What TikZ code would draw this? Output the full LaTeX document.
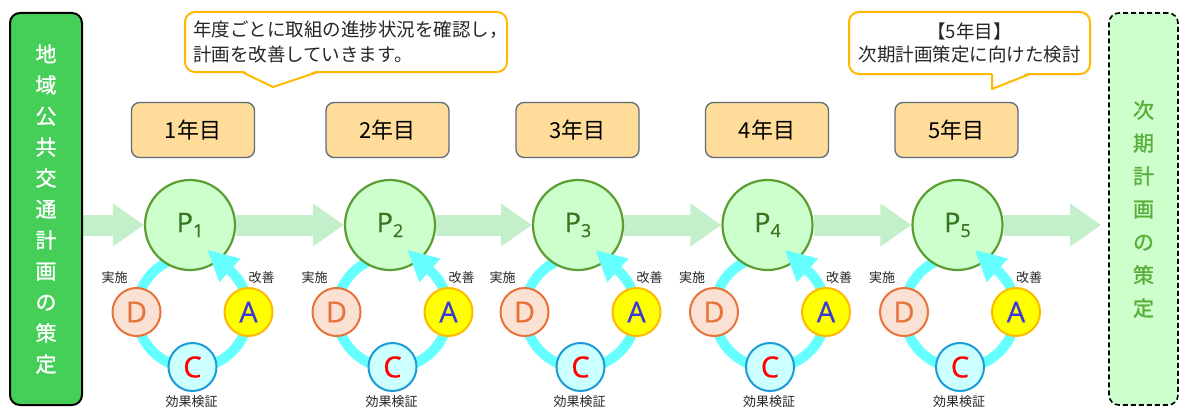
\documentclass[tikz,border=0pt]{standalone}
\usepackage{fontspec}
\setmainfont{Noto Sans CJK JP}
\newfontfamily\vfont[FakeBold=1.2]{Noto Sans CJK JP}
\newfontfamily\latf[FakeBold=0.6]{Open Sans}
\usetikzlibrary{arrows.meta,calc}
\definecolor{lgreen}{HTML}{45CF58}
\definecolor{rfill}{HTML}{CCFFCC}
\definecolor{rtext}{HTML}{5AAE3C}
\definecolor{bandc}{HTML}{C4EFCB}
\definecolor{pfill}{HTML}{CCFFCC}
\definecolor{pdraw}{HTML}{5A9E32}
\definecolor{ptext}{HTML}{357520}
\definecolor{yfill}{HTML}{FFDC9A}
\definecolor{ydraw}{HTML}{5F6B78}
\definecolor{cob}{HTML}{FFB900}
\definecolor{ringc}{HTML}{66FFFF}
\definecolor{dfill}{HTML}{FBE1D3}
\definecolor{ddraw}{HTML}{E8733A}
\definecolor{afill}{HTML}{FFFF00}
\definecolor{adraw}{HTML}{FFB900}
\definecolor{atext}{HTML}{3A3AD8}
\definecolor{cfill}{HTML}{CCFFFF}
\definecolor{cdraw}{HTML}{1B9CD8}
\definecolor{ctext}{HTML}{FF0000}
\pgfdeclarelayer{bg}
\pgfsetlayers{bg,main}
\begin{document}
\begin{tikzpicture}[x=1pt,y=1pt,
  leftbox/.style={draw=black,line width=2pt,fill=lgreen,rounded corners=10pt,minimum width=72pt,minimum height=392pt,inner sep=0pt,text=white,align=center,font=\vfont\fontsize{21}{31}\selectfont},
  rightbox/.style={draw=black,line width=1.6pt,dashed,dash pattern=on 5pt off 3pt,fill=rfill,rounded corners=10pt,minimum width=69pt,minimum height=392pt,inner sep=0pt,text=rtext,align=center,font=\vfont\fontsize{21}{33}\selectfont},
  callout/.style={draw=cob,line width=2pt,fill=white,rounded corners=10pt,inner sep=0pt,text=black!85},
  pcirc/.style={circle,draw=pdraw,line width=2.2pt,fill=pfill,minimum size=90pt,inner sep=0pt,text=ptext,font=\latf\fontsize{27}{27}\selectfont},
  yearbox/.style={draw=ydraw,line width=1.3pt,fill=yfill,rounded corners=8pt,minimum width=123pt,minimum height=55pt,inner sep=0pt,font=\fontsize{22}{22}\selectfont},
  band/.style={draw=bandc,line width=21pt,-{Triangle[length=31pt,width=41pt]}},
  ring/.style={draw=ringc,line width=10pt},
  letter/.style={circle,line width=2pt,minimum size=48pt,inner sep=0pt,font=\latf\fontsize{29}{29}\selectfont},
  dcirc/.style={letter,draw=ddraw,fill=dfill,text=ddraw},
  acirc/.style={letter,draw=adraw,fill=afill,text=atext},
  ccirc/.style={letter,draw=cdraw,fill=cfill,text=ctext},
  small/.style={font=\fontsize{13}{13}\selectfont,text=black!85,inner sep=0pt}
]
\useasboundingbox (0,0) rectangle (1180,408);

\node[leftbox] (L) at (46,199) {地\\域\\公\\共\\交\\通\\計\\画\\の\\策\\定};
\node[rightbox] (R) at (1143.5,199) {次\\期\\計\\画\\の\\策\\定};

% callouts
\node[callout,minimum width=322pt,minimum height=60pt,text width=306pt,align=left,font=\fontsize{18.5}{24.5}\selectfont] (co1) at (346,366) {年度ごとに取組の進捗状況を確認し，\\計画を改善していきます。};
\fill[white] (242,338) -- (273,321) -- (318,338) -- cycle;
\draw[draw=cob,line width=2pt,line join=round] (242,336) -- (273,321) -- (318,336);

\node[callout,minimum width=241pt,minimum height=62pt,align=center,font=\fontsize{18.5}{23}\selectfont] (co2) at (969.5,365) {【5年目】\\次期計画策定に向けた検討};
\fill[white] (992,336) -- (992,319) -- (1030,336) -- cycle;
\draw[draw=cob,line width=2pt,line join=round] (992,334) -- (992,319) -- (1030,334);

\foreach \i/\px/\bx in {1/190/193,2/390/387.5,3/578/577.5,4/767.5/767,5/957.5/956.5}{
  \node[yearbox] (y\i) at (\bx,278) {\i 年目};
  \coordinate (rc\i) at (\px+2.5,96);
  \begin{pgfonlayer}{bg}
    \draw[ring] ([shift={(48:56)}]rc\i) arc[start angle=48,end angle=-250,radius=56];
  \end{pgfonlayer}
  \node[dcirc] (d\i) at ([shift={(-56,0)}]rc\i) {D};
  \node[acirc] (a\i) at ([shift={(56,0)}]rc\i) {A};
  \node[ccirc] (c\i) at ([shift={(0,-55)}]rc\i) {C};
  \node[pcirc] (p\i) at (\px,183) {P\raisebox{-5pt}{\fontsize{18}{18}\selectfont\i}};
  \fill[ringc] ($(rc\i)+(48:72)$) -- ($(rc\i)+(48:40)$) -- ($(rc\i)+(48:56)+(138:30)$) -- cycle;
  \node[small] (im\i) at ([shift={(-78,34)}]rc\i) {実施};
  \node[small] (kz\i) at ([shift={(69,34)}]rc\i) {改善};
  \node[small] (kk\i) at ([shift={(-1,-90)}]rc\i) {効果検証};
}

\begin{pgfonlayer}{bg}
  \draw[band] (L.east |- p1.west) -- (p1.west);
  \draw[band] (p1.east) -- (p2.west);
  \draw[band] (p2.east) -- (p3.west);
  \draw[band] (p3.east) -- (p4.west);
  \draw[band] (p4.east) -- (p5.west);
  \draw[band,shorten >=7pt] (p5.east) -- (R.west |- p5.east);
\end{pgfonlayer}
\end{tikzpicture}
\end{document}
